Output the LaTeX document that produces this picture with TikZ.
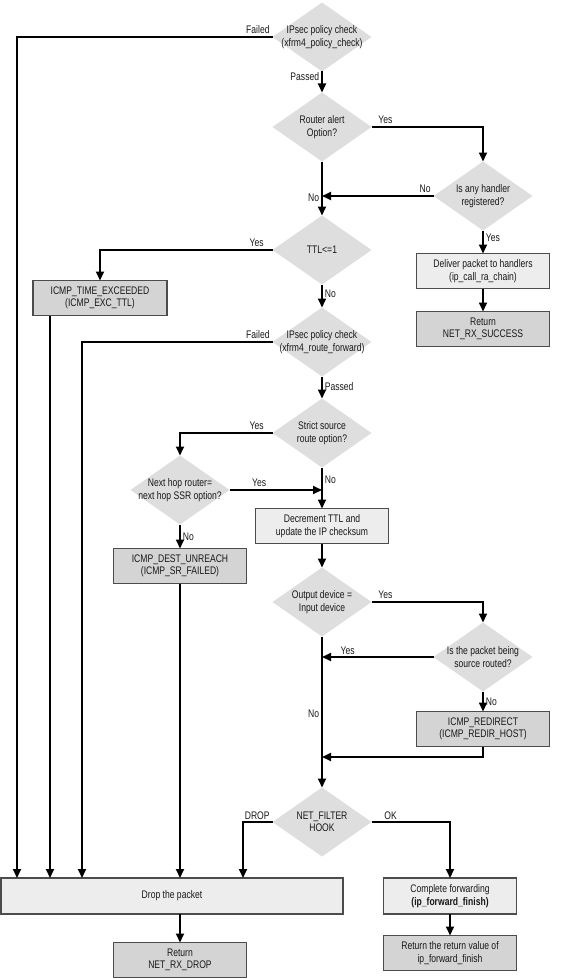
\documentclass[tikz,border=0pt]{standalone}
\usepackage{fontspec}
\setmainfont{Liberation Sans}[FakeStretch=0.78]
\usetikzlibrary{shapes.geometric,arrows.meta}

\begin{document}
\begin{tikzpicture}[x=1pt, y=-1pt,
    every node/.style={font=\fontsize{11}{12.5}\selectfont, text=black!90},
    decision/.style={diamond, fill=black!13, aspect=1.43, minimum width=99pt, minimum height=69pt, inner sep=-12pt, outer sep=0pt, align=center},
    action/.style={rectangle, draw=black!70, line width=1.2pt, fill=black!7, minimum width=133pt, minimum height=35pt, inner sep=1pt, outer sep=0pt, align=center},
    result/.style={action, fill=black!17},
    flow/.style={-{Triangle[length=9pt,width=8pt]}, line width=1.8pt},
    tag/.style={inner sep=2pt}]
    \useasboundingbox (0,0) rectangle (568,979);

    \node[decision] (ipsecA) at (322,37) {IPsec policy check\\(xfrm4\_policy\_check)};
    \node[decision] (router) at (322,127) {Router alert\\Option?};
    \node[decision] (handler) at (483,196) {Is any handler\\registered?};
    \node[action] (deliver) at (483,271) {Deliver packet to handlers\\(ip\_call\_ra\_chain)};
    \node[result] (success) at (483,329) {Return\\NET\_RX\_SUCCESS};
    \node[decision] (ttl) at (322,250) {TTL<=1};
    \node[result, minimum width=134pt] (timex) at (100,298) {ICMP\_TIME\_EXCEEDED\\(ICMP\_EXC\_TTL)};
    \node[decision] (ipsecB) at (322,342) {IPsec policy check\\(xfrm4\_route\_forward)};
    \node[decision] (strict) at (322,433) {Strict source\\route option?};
    \node[decision] (nexthop) at (180,490) {Next hop router=\\next hop SSR option?};
    \node[result] (unreach) at (180,566) {ICMP\_DEST\_UNREACH\\(ICMP\_SR\_FAILED)};
    \node[action] (decr) at (322,526) {Decrement TTL and\\update the IP checksum};
    \node[decision] (output) at (322,602) {Output device =\\Input device};
    \node[decision] (srcrt) at (483,657) {Is the packet being\\source routed?};
    \node[result] (redirect) at (483,729) {ICMP\_REDIRECT\\(ICMP\_REDIR\_HOST)};
    \node[decision] (filter) at (322,822) {NET\_FILTER\\HOOK};
    \node[action, minimum width=342pt, minimum height=36pt] (drop) at (172,896) {Drop the packet};
    \node[action, minimum height=36pt] (finish) at (450,896) {Complete forwarding\\\textbf{(ip\_forward\_finish)}};
    \node[result] (rxdrop) at (180,960) {Return\\NET\_RX\_DROP};
    \node[result] (retval) at (450,953) {Return the return value of\\ip\_forward\_finish};

    \coordinate (in1) at (17,878);
    \coordinate (in2) at (50,878);
    \coordinate (in3) at (82,878);
    \coordinate (in4) at (243,878);
    \coordinate (rejoin) at (322,757);

    \draw[flow] (ipsecA.west) -| (in1) node[pos=0, above left, tag] {Failed};
    \draw[flow] (ipsecA.south) -- (router.north) node[pos=0.25, left, tag] {Passed};
    \draw[flow] (router.east) -| (handler.north) node[pos=0, above right, tag, xshift=4pt] {Yes};
    \draw[flow] (router.south) -- (ttl.north) node[pos=0.68, left, tag] {No};
    \draw[flow] (handler.west) -- (handler.west -| router.south) node[pos=0, above left, tag] {No};
    \draw[flow] (handler.south) -- (deliver.north) node[pos=0.3, right, tag] {Yes};
    \draw[flow] (deliver) -- (success);
    \draw[flow] (ttl.west) -| (timex.north) node[pos=0, above left, tag, xshift=-6pt] {Yes};
    \draw[flow] (ttl.south) -- (ipsecB.north) node[pos=0.4, right, tag] {No};
    \draw[flow] (timex.south -| in2) -- (in2);
    \draw[flow] (ipsecB.west) -| (in3) node[pos=0, above left, tag] {Failed};
    \draw[flow] (ipsecB.south) -- (strict.north) node[pos=0.45, right, tag] {Passed};
    \draw[flow] (strict.west) -| (nexthop.north) node[pos=0, above left, tag, xshift=-6pt] {Yes};
    \draw[flow] (strict.south) -- (decr.north) node[pos=0.3, right, tag] {No};
    \draw[flow] (nexthop.east) -- (nexthop.east -| strict.south) node[pos=0.32, above, tag] {Yes};
    \draw[flow] (nexthop.south) -- (unreach.north) node[midway, right, tag] {No};
    \draw[flow] (unreach.south) -- (unreach.south |- drop.north);
    \draw[flow] (decr) -- (output);
    \draw[flow] (output.east) -| (srcrt.north) node[pos=0, above right, tag, xshift=4pt] {Yes};
    \draw[flow] (srcrt.west) -- (srcrt.west -| output.south) node[pos=0.77, above, tag] {Yes};
    \draw[flow] (srcrt.south) -- (redirect.north) node[midway, right, tag] {No};
    \draw[flow] (redirect.south) |- (rejoin);
    \draw[flow] (output.south) -- (filter.north) node[pos=0.51, left, tag] {No};
    \draw[flow] (filter.west) -| (in4) node[pos=0, above left, tag] {DROP};
    \draw[flow] (filter.east) -| (finish.north) node[pos=0, above right, tag, xshift=10pt] {OK};
    \draw[flow] (drop.south -| rxdrop) -- (rxdrop.north);
    \draw[flow] (finish) -- (retval);
\end{tikzpicture}
\end{document}
